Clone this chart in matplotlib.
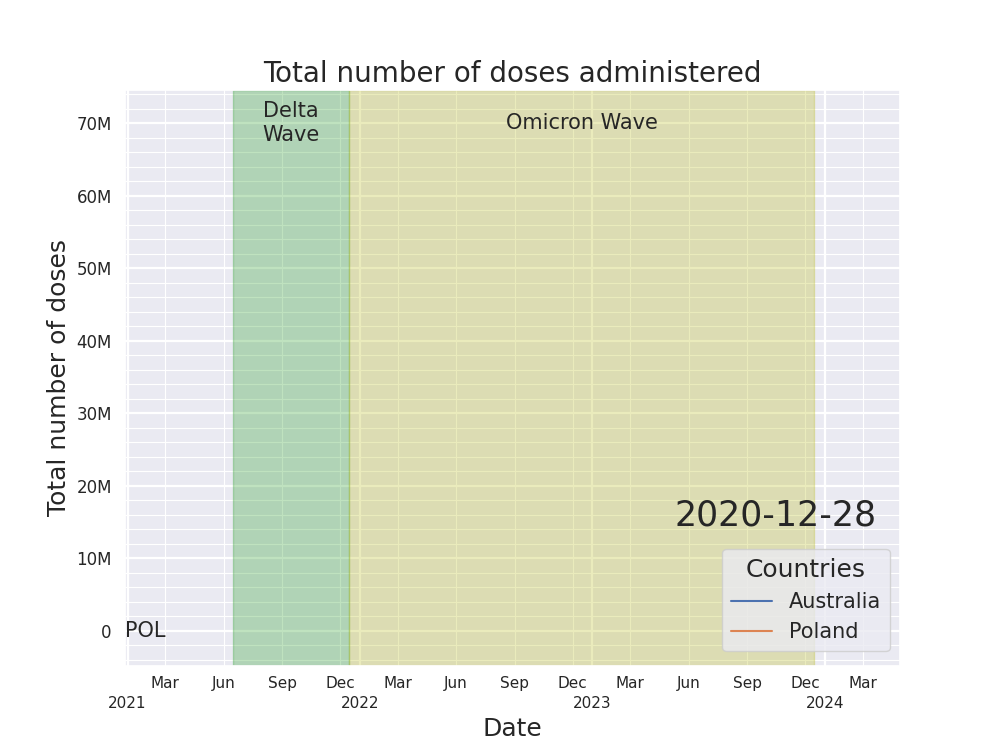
import matplotlib
matplotlib.use("Agg")
import matplotlib.pyplot as plt
import matplotlib.dates as mdates
from matplotlib.ticker import FuncFormatter, MultipleLocator
import seaborn as sns
import numpy as np
import pandas as pd

# data: only the first frame of the animation is shown
countries = ["Australia", "Poland"]
codes = ["AUS", "POL"]
dates = [pd.Timestamp("2020-12-28")]
doses = {"Australia": [0], "Poland": [0]}

waves = [("Delta\nWave", "2021-06-15", "2021-12-15", "tab:green"),
         ("Omicron Wave", "2021-12-15", "2023-12-15", "tab:olive")]

x_range = ("2020-12-28", "2024-04-28")
y_range = (-4.8e6, 74.55e6)
frame_date = "2020-12-28"

sns.set_theme(style="darkgrid")

fig, ax = plt.subplots(figsize=(10, 7.5), dpi=100)
fig.subplots_adjust(bottom=0.1124)

for name, start, end, col in waves:
    s = pd.Timestamp(start)
    e = pd.Timestamp(end)
    ax.axvspan(s, e, color=col, alpha=0.3)
    ax.text(s + (e - s) / 2, 70e6, name, ha="center", va="center", fontsize=15)

for c in countries:
    ax.plot(dates, doses[c], label=c)

ax.text(dates[-1], doses["Poland"][-1], codes[1], ha="left", va="center", fontsize=15)

ax.set_xlim(pd.Timestamp(x_range[0]), pd.Timestamp(x_range[1]))
ax.set_ylim(*y_range)

ax.xaxis.set_major_locator(mdates.YearLocator())
ax.xaxis.set_major_formatter(mdates.DateFormatter("\n%Y"))
ax.xaxis.set_minor_locator(mdates.MonthLocator(bymonth=(3, 6, 9, 12)))
ax.xaxis.set_minor_formatter(mdates.DateFormatter("%b"))
ax.yaxis.set_major_locator(MultipleLocator(10e6))
ax.yaxis.set_minor_locator(MultipleLocator(2e6))
ax.yaxis.set_major_formatter(FuncFormatter(lambda v, p: "0" if v == 0 else "%dM" % round(v / 1e6)))

ax.tick_params(axis="x", which="both", labelsize=11)
ax.tick_params(axis="y", labelsize=12)
ax.grid(which="major", color="white", linewidth=1.6)
ax.grid(which="minor", color="white", linewidth=0.8)

ax.text(0.97, 0.261, frame_date, transform=ax.transAxes, ha="right", va="center", fontsize=25)

ax.set_title("Total number of doses administered", fontsize=20)
ax.set_xlabel("Date", fontsize=18)
ax.set_ylabel("Total number of doses", fontsize=18)
ax.legend(title="Countries", loc="lower right", bbox_to_anchor=(1, 0.008),
          fontsize=15, title_fontsize=18)

plt.savefig("out.png")
